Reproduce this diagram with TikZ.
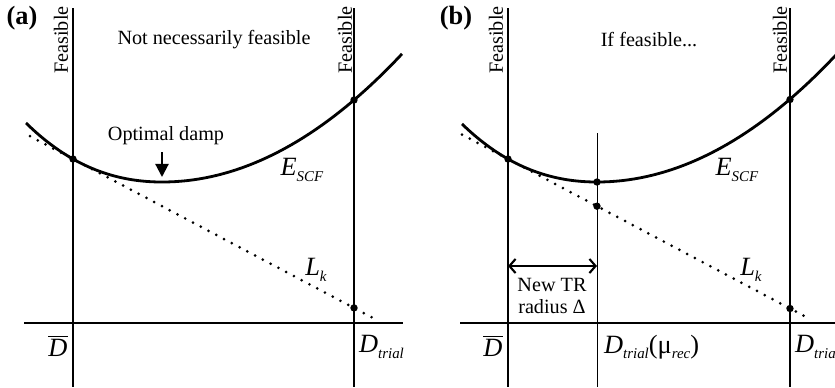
\documentclass[tikz,border=0pt]{standalone}
\usepackage{fontspec}
\setmainfont{Liberation Serif}
\usetikzlibrary{arrows.meta}

\newcommand{\lowsub}[1]{\raisebox{-0.45ex}{\fontsize{8.5}{9}\selectfont\textit{#1}}}
\newcommand{\Escf}{\textit{E}\lowsub{SCF}}
\newcommand{\Lk}{\textit{L}\lowsub{k}}
\newcommand{\Dbar}{$\overline{\mbox{\textit{D}}}$}
\newcommand{\Dtrial}{\textit{D}\lowsub{trial}}

\begin{document}
\begin{tikzpicture}[
  x=0.02cm, y=-0.02cm,
  vline/.style={line width=0.8pt},
  thinline/.style={line width=0.5pt},
  ecurve/.style={line width=1.6pt},
  tangent/.style={line width=1.7pt, dash pattern=on 0pt off 5pt, line cap=round},
  dot/.style={circle, fill=black, inner sep=0pt, minimum size=4.2pt},
  txt/.style={font=\fontsize{11.5}{13}\selectfont, inner sep=1pt},
  mtxt/.style={font=\fontsize{15}{17}\selectfont, inner sep=1pt},
  tag/.style={font=\fontsize{15}{17}\selectfont\bfseries, inner sep=1pt}
]
  \clip (0,0) rectangle (835,387);

  % Panel (a)
  \begin{scope}
    \coordinate (a-lt) at (73,8);   \coordinate (a-lb) at (73,387);
    \coordinate (a-rt) at (354,8);  \coordinate (a-rb) at (354,387);
    \coordinate (a-x0) at (24,323); \coordinate (a-x1) at (403,323);
    \coordinate (a-t0) at (30,136.2); \coordinate (a-t1) at (373,318);
    \draw[vline] (a-lt) -- (a-lb);
    \draw[vline] (a-rt) -- (a-rb);
    \draw[vline] (a-x0) -- (a-x1);

    % Energy curve and its linear model
    \draw[ecurve] plot[domain=26:162, samples=40] (\x,{182-23.62*((162-\x)/100)^2-6.09*((162-\x)/100)^3})
      -- plot[domain=162:402, samples=40] (\x,{182-22.24*((\x-162)/100)^2});
    \draw[tangent] (a-t0) -- (a-t1);

    \node[dot] (a-p1) at (73,159) {};
    \node[dot] (a-p2) at (354,100) {};
    \node[dot] (a-p3) at (354,307.9) {};

    \node[tag] (a-tag) at (22,18) {(a)};
    \node[txt, rotate=90] (a-fl) at (61,40) {Feasible};
    \node[txt, rotate=90] (a-fr) at (345,40) {Feasible};
    \node[txt] (a-top) at (214,40) {Not necessarily feasible};
    \node[txt] (a-opt) at (166,136) {Optimal damp};
    \coordinate (a-min) at (162,177);
    \draw[line width=1.2pt, -{Triangle[length=7.5pt, width=7.5pt]}] (a-opt) ++(-4,16) -- (a-min);

    \node[mtxt] (a-e) at (302,170) {\Escf};
    \node[mtxt] (a-l) at (316,270) {\Lk};
    \node[mtxt] (a-d) at (58,346) {\Dbar};
    \node[mtxt, anchor=west] (a-dt) at (357,347) {\Dtrial};
  \end{scope}

  % Panel (b)
  \begin{scope}[shift={(435,0)}]
    \coordinate (b-lt) at (73,8);   \coordinate (b-lb) at (73,387);
    \coordinate (b-rt) at (355,8);  \coordinate (b-rb) at (355,387);
    \coordinate (b-mt) at (162,133); \coordinate (b-mb) at (162,387);
    \coordinate (b-x0) at (25,323); \coordinate (b-x1) at (410,323);
    \coordinate (b-t0) at (27,134.6); \coordinate (b-t1) at (374,318.5);
    \draw[vline] (b-lt) -- (b-lb);
    \draw[vline] (b-rt) -- (b-rb);
    \draw[thinline] (b-mt) -- (b-mb);
    \draw[vline] (b-x0) -- (b-x1);

    % Energy curve and its linear model
    \draw[ecurve] plot[domain=27:162, samples=40] (\x,{182-23.62*((162-\x)/100)^2-6.09*((162-\x)/100)^3})
      -- plot[domain=162:405, samples=40] (\x,{182-22.24*((\x-162)/100)^2});
    \draw[tangent] (b-t0) -- (b-t1);

    \node[dot] (b-p1) at (73,159) {};
    \node[dot] (b-p2) at (355,99.5) {};
    \node[dot] (b-p3) at (355,308.5) {};
    \node[dot] (b-p4) at (162,182) {};
    \node[dot] (b-p5) at (162,206.2) {};

    \node[tag] (b-tag) at (21,18) {(b)};
    \node[txt, rotate=90] (b-fl) at (61,40) {Feasible};
    \node[txt, rotate=90] (b-fr) at (345,40) {Feasible};
    \node[txt] (b-top) at (214,40) {If feasible...};

    % Trust region radius
    \coordinate (b-ra) at (73,266); \coordinate (b-rb2) at (162,266);
    \draw[line width=1.2pt, {Straight Barb[length=3.5pt, width=8pt]}-{Straight Barb[length=3.5pt, width=8pt]}] (b-ra) -- (b-rb2);
    \node[txt, align=center] (b-tr) at (117,296) {New TR\\radius Δ};

    \node[mtxt] (b-e) at (302,170) {\Escf};
    \node[mtxt] (b-l) at (316,270) {\Lk};
    \node[mtxt] (b-d) at (58,346) {\Dbar};
    \node[mtxt, anchor=west] (b-dm) at (167,347) {\Dtrial(μ\lowsub{rec})};
    \node[mtxt, anchor=west] (b-dt) at (358,347) {\Dtrial};
  \end{scope}
\end{tikzpicture}
\end{document}
